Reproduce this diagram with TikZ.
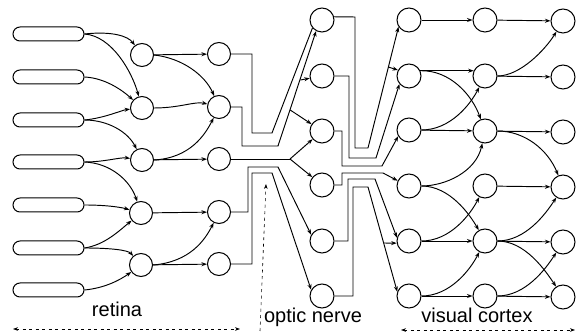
\documentclass[tikz,border=0pt]{standalone}
\usepackage{fontspec}
\newfontfamily\labfont{Liberation Sans}
\usetikzlibrary{arrows.meta}
\begin{document}
\begin{tikzpicture}[x=1pt,y=-1pt,
  rod/.style={draw, rounded corners=7pt, minimum width=71pt, minimum height=14pt, inner sep=0pt, line width=1pt},
  cell/.style={draw, circle, minimum size=23pt, inner sep=0pt, line width=1pt},
  bigcell/.style={cell, minimum size=24pt},
  ln/.style={line width=0.95pt},
  ar/.style={ln, -{Stealth[length=5.5pt,width=4pt]}},
  lab/.style={font=\labfont\fontsize{20}{24}\selectfont, anchor=base, inner sep=0pt},
  rangearrow/.style={line width=0.6pt, dash pattern=on 3pt off 3.5pt, {Stealth[length=5pt,width=3.6pt]}-{Stealth[length=5pt,width=3.6pt]}},
  upwardarrow/.style={line width=0.6pt, dash pattern=on 3pt off 3.5pt, -{Stealth[length=5pt,width=3.6pt]}},
  ]
\useasboundingbox (0,0) rectangle (576,336);

% retina rods
\node[rod] (r1) at (48.5,34) {};
\node[rod] (r2) at (48.5,77) {};
\node[rod] (r3) at (48.5,120) {};
\node[rod] (r4) at (48.5,162) {};
\node[rod] (r5) at (48.5,205) {};
\node[rod] (r6) at (48.5,248) {};
\node[rod] (r7) at (48.5,290) {};

% column 1
\node[cell] (a1) at (142,55) {};
\node[cell] (a2) at (142,108) {};
\node[cell] (a3) at (142,160) {};
\node[cell] (a4) at (141,213) {};
\node[cell] (a5) at (141,265) {};
% column 2
\node[cell] (b1) at (219,54) {};
\node[cell] (b2) at (219,107) {};
\node[cell] (b3) at (219,159) {};
\node[cell] (b4) at (219,212) {};
\node[cell] (b5) at (219,264) {};
% column 3 (optic nerve targets)
\node[bigcell] (c1) at (322,20) {};
\node[bigcell] (c2) at (322,76) {};
\node[bigcell] (c3) at (322,131) {};
\node[bigcell] (c4) at (322,185) {};
\node[bigcell] (c5) at (322,241) {};
\node[bigcell] (c6) at (322,296) {};
% column 4
\node[bigcell] (d1) at (409,20) {};
\node[bigcell] (d2) at (409,76) {};
\node[bigcell] (d3) at (409,130) {};
\node[bigcell] (d4) at (409,186) {};
\node[bigcell] (d5) at (409,241) {};
\node[bigcell] (d6) at (409,296) {};
% column 5
\node[bigcell] (e1) at (485,20) {};
\node[bigcell] (e2) at (485,76) {};
\node[bigcell] (e3) at (485,131) {};
\node[bigcell] (e4) at (485,186) {};
\node[bigcell] (e5) at (485,241) {};
\node[bigcell] (e6) at (485,296) {};
% column 6
\node[bigcell] (f1) at (563,21) {};
\node[bigcell] (f2) at (563,77) {};
\node[bigcell] (f3) at (563,132) {};
\node[bigcell] (f4) at (563,187) {};
\node[bigcell] (f5) at (563,242) {};
\node[bigcell] (f6) at (563,297) {};

% rods -> column 1
\draw[ar] (r1.east) .. controls (112,31) and (128,36) .. (a1);
\draw[ar] (r1.east) .. controls (112,36) and (132,72) .. (a2);
\draw[ar] (r2.east) .. controls (105,78) and (122,90) .. (a2);
\draw[ar] (r3.east) .. controls (105,118) and (122,110) .. (a2);
\draw[ar] (r3.east) .. controls (108,120) and (128,132) .. (a3);
\draw[ar] (r4.east) .. controls (105,162) and (120,157) .. (a3);
\draw[ar] (r4.east) .. controls (110,163) and (130,180) .. (a4);
\draw[ar] (r5.east) .. controls (105,205) and (120,207) .. (a4);
\draw[ar] (r6.east) .. controls (105,245) and (120,230) .. (a4);
\draw[ar] (r6.east) .. controls (110,248) and (128,250) .. (a5);
\draw[ar] (r7.east) .. controls (105,288) and (120,280) .. (a5);

% column 1 -> column 2
\draw[ar] (a1) -- (b1);
\draw[ar] (a1.east) .. controls (182,58) and (205,75) .. (b2);
\draw[ar] (a2.east) .. controls (180,108) and (195,101) .. (b2);
\draw[ar] (a3.east) .. controls (190,158) and (205,135) .. (b2);
\draw[ar] (a3) -- (b3);
\draw[ar] (a4) -- (b4);
\draw[ar] (a5) -- (b5);
\draw[ar] (a5.east) .. controls (190,262) and (205,240) .. (b4);

% optic nerve, upper bundle
\draw[ln] (b1.east) -- (252,54) -- (252,133) -- (272,133) -- (c1.-140);
\draw[ar] (b2.east) -- (242,107) -- (242,146) -- (278,146) -- (c1.-118);
\coordinate (j1) at (300.4,80);
\coordinate (j2) at (290.2,110);
\draw[ar] (j1) -- (c2);
\draw[ar] (j2) -- (c3);
% middle fork
\coordinate (fork) at (290,159);
\draw[ln] (b3.east) -- (fork);
\draw[ar] (fork) -- (c3);
\draw[ar] (fork) -- (c4);
% optic nerve, lower bundle
\draw[ar] (b4.east) -- (248,212) -- (248,167) -- (278,167) -- (c5.150);
\draw[ar] (b5.east) -- (252,264) -- (252,173) -- (272,173) -- (c6.150);

% column 3 -> column 4, upper
\draw[ar] (c1.15) -- (355,17) -- (355,148) -- (368,148) -- (d1.-147);
\coordinate (j3) at (388.3,67);
\draw[ar] (j3) -- (d2.152);
\draw[ar] (c2.east) -- (349,76) -- (349,158) -- (376,158) -- (d2.-140);
\draw[ar] (c3.east) -- (342,131) -- (342,166) -- (382,166) -- (d3.-150);
% column 3 -> column 4, lower
\draw[ar] (c4.east) -- (342,185) -- (342,173) -- (383,173) -- (d4.155);
\draw[ar] (c5.east) -- (348,241) -- (348,179) -- (375,179) -- (d5.165);
\draw[ar] (c6.east) -- (353,296) -- (353,187) -- (368,187) -- (d6.160);
\coordinate (j4) at (383.8,243);
\draw[ar] (j4) -- (d5.190);

% column 4 -> column 5
\draw[ar] (d1) -- (e1);
\draw[ar] (d2.25) -- (e2.155);
\draw[ar] (d2.25) .. controls (450,70) and (472,95) .. (e3);
\draw[ar] (d3) -- (e3);
\draw[ar] (d3.east) .. controls (450,130) and (470,105) .. (e2);
\draw[ar] (d4.east) .. controls (445,186) and (476,172) .. (e3);
\draw[ar] (d4.east) .. controls (450,186) and (470,215) .. (e5);
\draw[ar] (d5) -- (e5);
\draw[ar] (d5.east) .. controls (450,241) and (470,215) .. (e4);
\draw[ar] (d6) -- (e6);
\draw[ar] (d6.east) .. controls (450,296) and (470,270) .. (e5);

% column 5 -> column 6
\draw[ar] (e1) -- (f1);
\draw[ar] (e2.east) .. controls (520,76) and (545,50) .. (f1);
\draw[ar] (e2) -- (f2);
\draw[ar] (e3) -- (f3);
\draw[ar] (e3.east) .. controls (525,131) and (548,150) .. (f4);
\draw[ar] (e4) -- (f4);
\draw[ar] (e5) -- (f5);
\draw[ar] (e5.east) .. controls (525,241) and (545,215) .. (f4);
\draw[ar] (e5.east) .. controls (525,241) and (545,270) .. (f6);
\draw[ar] (e6) -- (f6);
\draw[ar] (e6.east) .. controls (525,296) and (545,270) .. (f5);

% labels
\node[lab] (tret) at (117,317) {retina};
\node[lab] (topt) at (313,323) {optic nerve};
\node[lab] (tvis) at (477,323) {visual cortex};

% extent arrows
\coordinate (rl) at (13,329);
\coordinate (rr) at (240,329);
\coordinate (ob) at (260,331);
\coordinate (ot) at (266,184);
\coordinate (vl) at (401,330);
\coordinate (vr) at (575,330);
\draw[rangearrow] (rl) -- (rr);
\draw[upwardarrow] (ob) -- (ot);
\draw[rangearrow] (vl) -- (vr);
\end{tikzpicture}
\end{document}
